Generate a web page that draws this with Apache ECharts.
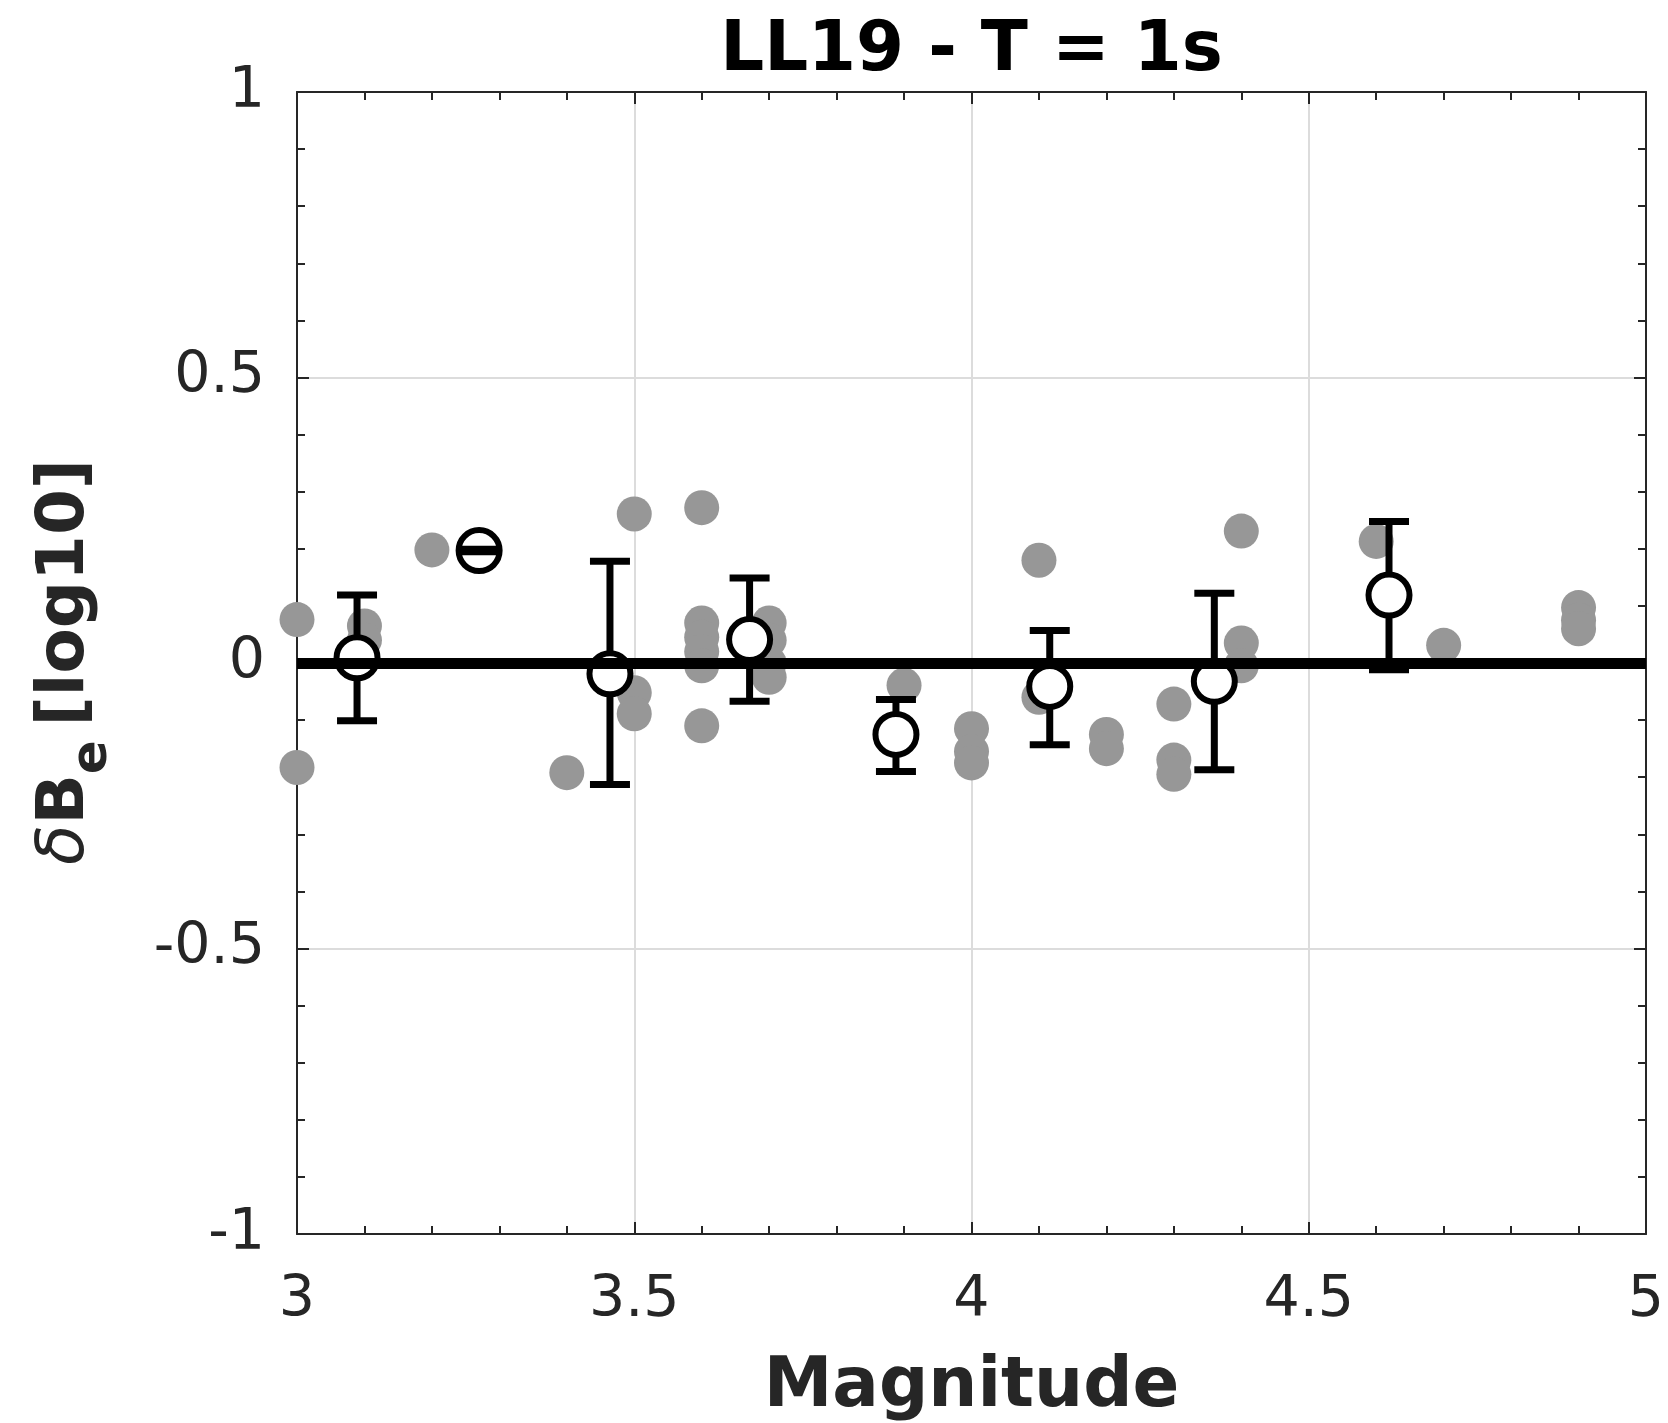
<!DOCTYPE html>
<html><head><meta charset="utf-8">
<script src="https://cdn.jsdelivr.net/npm/echarts@6/dist/echarts.min.js"></script>
<style>html,body{margin:0;padding:0;background:#fff}#c{width:1668px;height:1423px}</style>
</head><body><div id="c"></div>
<script>
// ---- data ----
const chartTitle = 'LL19 - T = 1s';
const xAxisName = 'Magnitude';
const xTicks = [3, 3.5, 4, 4.5, 5];
const yTicks = [-1, -0.5, 0, 0.5, 1];
// individual residuals (grey dots)
const residualM = [3.0, 3.0, 3.1, 3.1, 3.2, 3.4, 3.5, 3.5, 3.5, 3.6, 3.6, 3.6, 3.6, 3.6, 3.6,
  3.7, 3.7, 3.7, 3.7, 3.9, 4.0, 4.0, 4.0, 4.1, 4.1, 4.2, 4.2, 4.3, 4.3, 4.3, 4.4, 4.4, 4.4,
  4.6, 4.7, 4.9, 4.9, 4.9];
const residualD = [0.076, -0.183, 0.065, 0.04, 0.198, -0.192, 0.261, -0.052, -0.089, 0.272, 0.07, 0.045, 0.02, -0.005, -0.11,
  0.07, 0.04, 0.0, -0.025, -0.039, -0.115, -0.155, -0.175, 0.18, -0.06, -0.125, -0.15, -0.072, -0.17, -0.195, 0.231, 0.035, -0.005,
  0.213, 0.031, 0.097, 0.075, 0.06];
// binned means with error bars
const binM = [3.089, 3.27, 3.464, 3.671, 3.888, 4.116, 4.36, 4.619];
const binMean = [0.009, 0.197, -0.019, 0.041, -0.125, -0.041, -0.032, 0.119];
const binLow = [-0.101, 0.195, -0.213, -0.067, -0.190, -0.143, -0.187, -0.012];
const binHigh = [0.119, 0.199, 0.178, 0.149, -0.064, 0.057, 0.122, 0.248];
const refLine = [0];

// ---- build ----
const FONT = 'DejaVu Sans';
const INK = '#262626';
const gridL = 297, gridR = 22, gridT = 92, gridB = 189;
const xMin = xTicks[0], xMax = xTicks[xTicks.length - 1];
const yMin = yTicks[0], yMax = yTicks[yTicks.length - 1];
const xInt = xTicks[1] - xTicks[0], yInt = yTicks[1] - yTicks[0];

const chart = echarts.init(document.getElementById('c'), null, {renderer: 'canvas'});

function baseAxis(min, max, interval, position, showLabel, showSplit) {
  return {
    type: 'value', min, max, interval, position,
    axisLine: {show: true, onZero: false, lineStyle: {color: INK, width: 2}},
    axisTick: {show: true, inside: true, length: 12, lineStyle: {color: INK, width: 2}},
    minorTick: {show: true, splitNumber: 5, length: 8, lineStyle: {color: INK, width: 2}},
    splitLine: {show: showSplit, lineStyle: {color: '#dcdcdc', width: 2}},
    minorSplitLine: {show: false},
    axisLabel: {show: showLabel, fontFamily: FONT, fontSize: 57, color: INK,
      showMinLabel: true, showMaxLabel: true}
  };
}

const xBottom = baseAxis(xMin, xMax, xInt, 'bottom', true, true);
xBottom.axisLabel.margin = 39;
xBottom.name = xAxisName;
xBottom.nameLocation = 'middle';
xBottom.nameGap = 120;
xBottom.nameTextStyle = {fontFamily: FONT, fontSize: 69, fontWeight: 'bold', color: INK};
const xTop = baseAxis(xMin, xMax, xInt, 'top', false, false);
const yLeft = baseAxis(yMin, yMax, yInt, 'left', true, true);
yLeft.axisLabel.margin = 32;
const yRight = baseAxis(yMin, yMax, yInt, 'right', false, false);

// y-axis label pieces measured with canvas
const mctx = document.createElement('canvas').getContext('2d');
function tw(t, f) { mctx.font = f; return mctx.measureText(t).width; }
const yFs = 66, subFs = 50;
const fDelta = 'italic ' + yFs + 'px "' + FONT + '"';
const fBold = 'bold ' + yFs + 'px "' + FONT + '"';
const fSub = 'bold ' + subFs + 'px "' + FONT + '"';
const parts = [
  {t: '\u03b4', f: fDelta, dy: 0, gap: 0},
  {t: 'B', f: fBold, dy: 0, gap: 0},
  {t: 'e', f: fSub, dy: 27, gap: 14},
  {t: '[log10]', f: fBold, dy: 0, gap: 0}
];
let total = 0; parts.forEach(p => { p.w = tw(p.t, p.f); total += p.w + p.gap; });
let cx = -total / 2;
const yLabelChildren = parts.map(p => {
  const el = {type: 'text', x: cx, y: p.dy,
    style: {text: p.t, font: p.f, fill: INK, textAlign: 'left', textVerticalAlign: 'middle'}};
  cx += p.w + p.gap; return el;
});

const option = {
  backgroundColor: '#ffffff',
  animation: false,
  grid: {left: gridL, right: gridR, top: gridT, bottom: gridB, containLabel: false, outerBoundsMode: 'none'},
  xAxis: [xBottom, xTop],
  yAxis: [yLeft, yRight],
  graphic: [
    {type: 'text', x: gridL + (1668 - gridL - gridR) / 2, y: 52,
      style: {text: chartTitle, font: 'bold 69px "' + FONT + '"', fill: '#000', textAlign: 'center', textVerticalAlign: 'middle'}},
    {type: 'group', x: 66, y: 662, rotation: Math.PI / 2, children: yLabelChildren}
  ],
  series: [
    {
      name: 'residuals', type: 'scatter', z: 1,
      symbol: 'circle', symbolSize: 35,
      itemStyle: {color: '#979797', opacity: 1},
      data: residualM.map((m, i) => [m, residualD[i]])
    },
    {
      name: 'zero', type: 'line', z: 2, data: [], symbol: 'none',
      markLine: {silent: true, symbol: 'none', label: {show: false},
        lineStyle: {color: '#000', width: 11, type: 'solid'},
        data: refLine.map(v => ({yAxis: v}))}
    },
    {
      name: 'stems', type: 'custom', z: 3,
      encode: {x: 0, y: [1, 2]},
      data: binM.map((m, i) => [m, binLow[i], binHigh[i]]),
      renderItem: (params, api) => {
        const p1 = api.coord([api.value(0), api.value(2)]);
        const p2 = api.coord([api.value(0), api.value(1)]);
        return {type: 'line', shape: {x1: p1[0], y1: p1[1], x2: p2[0], y2: p2[1]},
          style: {stroke: '#000', lineWidth: 7}};
      }
    },
    {
      name: 'means', type: 'scatter', z: 4,
      symbol: 'circle', symbolSize: 41,
      itemStyle: {color: '#ffffff', borderColor: '#000', borderWidth: 6, opacity: 1},
      data: binM.map((m, i) => [m, binMean[i]])
    },
    {
      name: 'caps', type: 'custom', z: 5,
      encode: {x: 0, y: [1, 2]},
      data: binM.map((m, i) => [m, binLow[i], binHigh[i]]),
      renderItem: (params, api) => {
        const hw = 20;
        const t = api.coord([api.value(0), api.value(2)]);
        const b = api.coord([api.value(0), api.value(1)]);
        return {type: 'group', children: [
          {type: 'line', shape: {x1: t[0] - hw, y1: t[1], x2: t[0] + hw, y2: t[1]}, style: {stroke: '#000', lineWidth: 7}},
          {type: 'line', shape: {x1: b[0] - hw, y1: b[1], x2: b[0] + hw, y2: b[1]}, style: {stroke: '#000', lineWidth: 7}}
        ]};
      }
    }
  ]
};
chart.setOption(option);
</script>
</body></html>
